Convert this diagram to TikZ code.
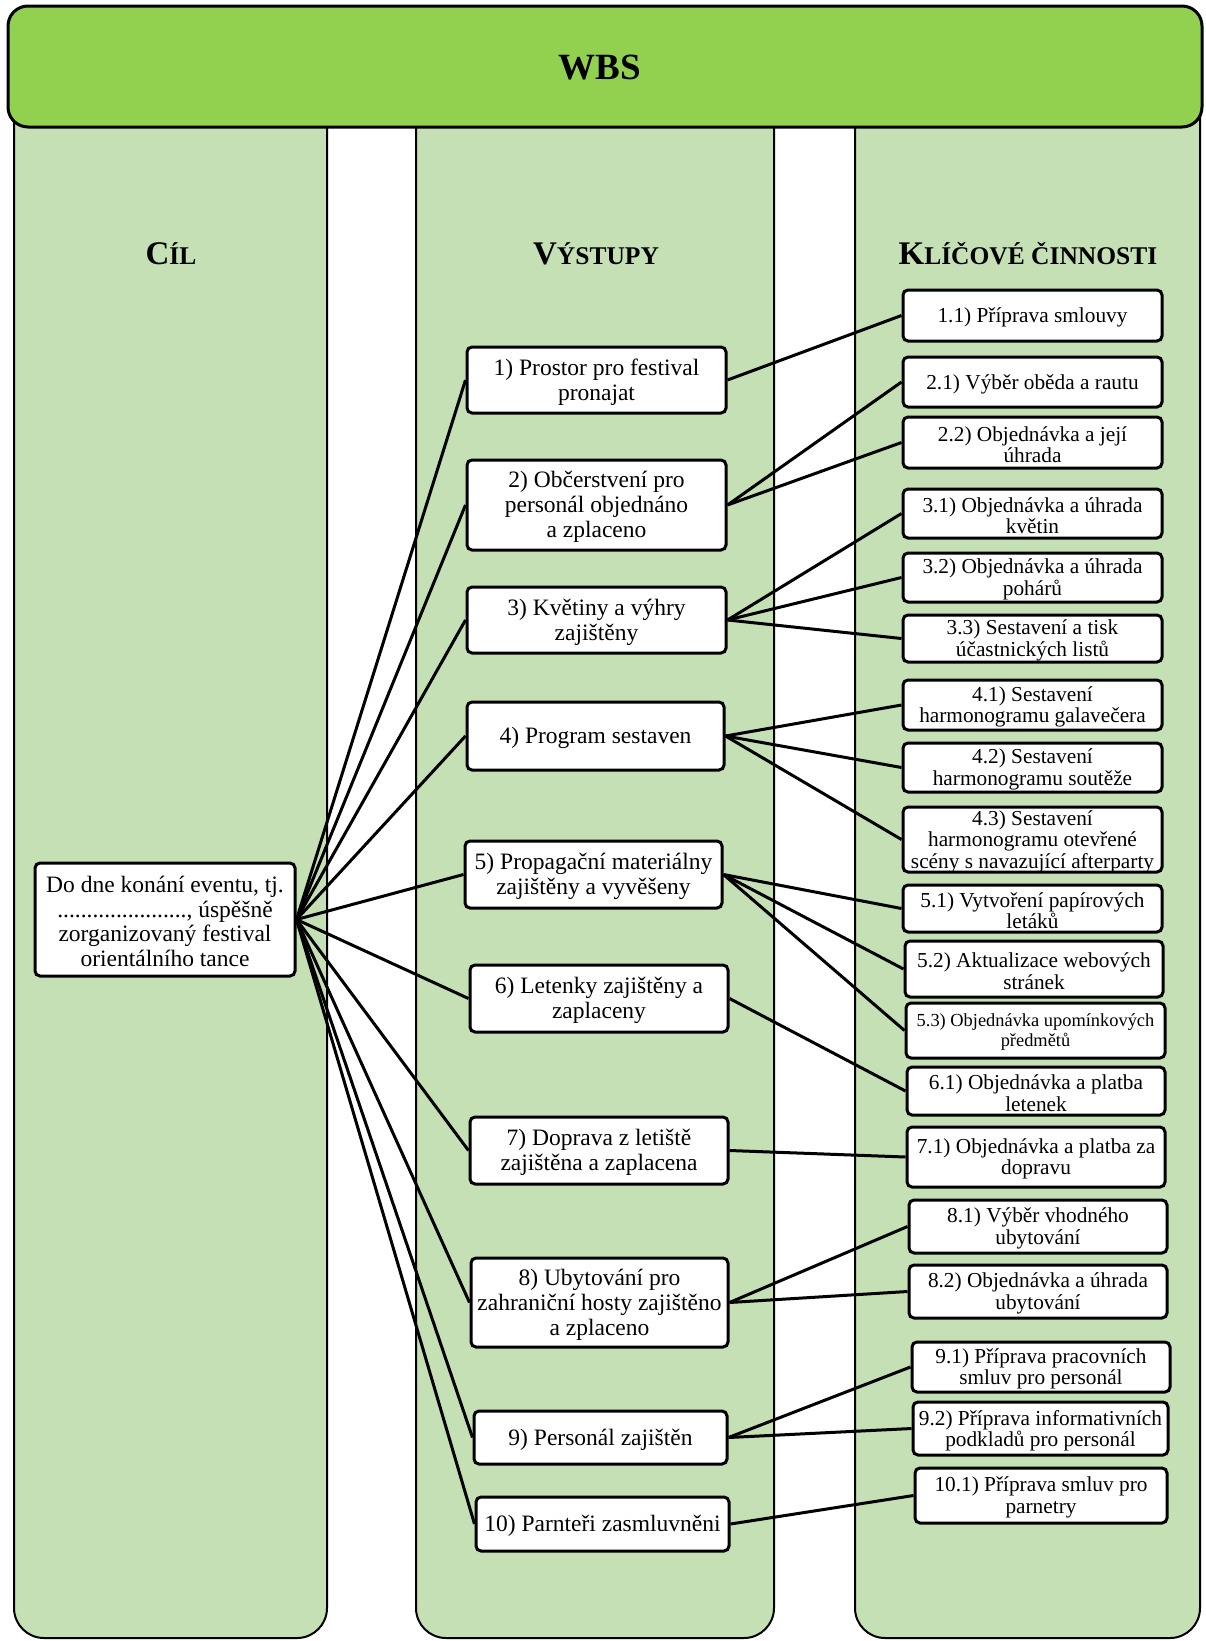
\documentclass[tikz,border=0pt]{standalone}
\usepackage{fontspec}
\setmainfont{Liberation Serif}
\definecolor{barGreen}{HTML}{92D050}
\definecolor{laneGreen}{HTML}{C5E0B4}

% box given by its corners: style, name, x1, y1, x2, y2, text
% the frame carries the name; the text sits in its own node, set a little lower
\newcommand\wbsbox[7]{%
  \node[#1, minimum width={(#5)-(#3)}, minimum height={(#6)-(#4)}]
    (#2) at ({((#3)+(#5))/2},{((#4)+(#6))/2}) {};
  \node[#1, draw=none, fill=none, yshift=-2pt]
    (#2-t) at ({((#3)+(#5))/2},{((#4)+(#6))/2}) {#7};}

\begin{document}
\begin{tikzpicture}[x=1pt,y=-1pt,
  lane/.style={draw=black, line width=2pt, fill=laneGreen, rounded corners=30pt},
  titlebar/.style={draw=black, line width=3pt, fill=barGreen, rounded corners=20pt},
  box/.style={draw=black, line width=3pt, fill=white, rounded corners=5pt,
    inner sep=0pt, align=center},
  goalbox/.style={box, font=\fontsize{23.5}{24.7}\selectfont},
  outbox/.style={box, font=\fontsize{23.5}{25}\selectfont},
  actbox/.style={box, font=\fontsize{21.3}{21.5}\selectfont},
  smallact/.style={box, font=\fontsize{18.4}{20}\selectfont},
  link/.style={line width=3pt},
  head/.style={font=\bfseries}
]
\useasboundingbox (0,0) rectangle (1205,1641);

% swimlanes
\draw[lane] (14,60) rectangle (327,1638);
\draw[lane] (416,60) rectangle (774,1638);
\draw[lane] (855,60) rectangle (1200,1638);

% title bar
\draw[titlebar] (8,6) rectangle (1202,127);
\node[head, font=\bfseries\fontsize{37}{40}\selectfont] (wbs) at (600,68) {WBS};

% lane headings
\node[head] (hgoal) at (171,254)
  {\fontsize{33}{40}\selectfont C\fontsize{25.5}{40}\selectfont ÍL};
\node[head] (hout) at (596,254)
  {\fontsize{33}{40}\selectfont V\fontsize{25.5}{40}\selectfont ÝSTUPY};
\node[head] (hact) at (1028,254)
  {\fontsize{33}{40}\selectfont K\fontsize{25.5}{40}\selectfont LÍČOVÉ ČINNOSTI};

% goal
\wbsbox{goalbox}{goal}{35}{863}{295}{976}
  {Do dne konání eventu, tj.\\ ......................, úspěšně\\ zorganizovaný festival\\ orientálního tance}

% deliverables
\wbsbox{outbox}{o1}{467}{347}{726}{413}{1) Prostor pro festival\\ pronajat}
\wbsbox{outbox}{o2}{467}{460}{726}{550}{2) Občerstvení pro\\ personál objednáno\\ a zplaceno}
\wbsbox{outbox}{o3}{467}{587}{726}{653}{3) Květiny a výhry\\ zajištěny}
\wbsbox{outbox}{o4}{467}{702}{724}{770}{4) Program sestaven}
\wbsbox{outbox}{o5}{465}{841}{722}{908}{5) Propagační materiálny\\ zajištěny a vyvěšeny}
\wbsbox{outbox}{o6}{470}{965}{728}{1032}{6) Letenky zajištěny a\\ zaplaceny}
\wbsbox{outbox}{o7}{470}{1117}{728}{1184}{7) Doprava z letiště\\ zajištěna a zaplacena}
\wbsbox{outbox}{o8}{471}{1258}{728}{1347}{8) Ubytování pro\\ zahraniční hosty zajištěno\\ a zplaceno}
\wbsbox{outbox}{o9}{474}{1411}{727}{1464}{9) Personál zajištěn}
\wbsbox{outbox}{o10}{476}{1497}{729}{1551}{10) Parnteři zasmluvněni}

% key activities
\wbsbox{actbox}{a11}{903}{290}{1162}{341}{1.1) Příprava smlouvy}
\wbsbox{actbox}{a21}{903}{357}{1162}{407}{2.1) Výběr oběda a rautu}
\wbsbox{actbox}{a22}{903}{417}{1162}{468}{2.2) Objednávka a její\\ úhrada}
\wbsbox{actbox}{a31}{903}{489}{1162}{538}{3.1) Objednávka a úhrada\\ květin}
\wbsbox{actbox}{a32}{903}{553}{1162}{602}{3.2) Objednávka a úhrada\\ pohárů}
\wbsbox{actbox}{a33}{903}{615}{1162}{662}{3.3) Sestavení a tisk\\ účastnických listů}
\wbsbox{actbox}{a41}{903}{680}{1162}{730}{4.1) Sestavení\\ harmonogramu galavečera}
\wbsbox{actbox}{a42}{903}{743}{1162}{792}{4.2) Sestavení\\ harmonogramu soutěže}
\wbsbox{actbox}{a43}{903}{807}{1162}{872}{4.3) Sestavení\\ harmonogramu otevřené\\ scény s navazující afterparty}
\wbsbox{actbox}{a51}{903}{885}{1162}{932}{5.1) Vytvoření papírových\\ letáků}
\wbsbox{actbox}{a52}{905}{941}{1163}{997}{5.2) Aktualizace webových\\ stránek}
\wbsbox{smallact}{a53}{906}{1003}{1165}{1058}{5.3) Objednávka upomínkových\\ předmětů}
\wbsbox{actbox}{a61}{907}{1067}{1165}{1115}{6.1) Objednávka a platba\\ letenek}
\wbsbox{actbox}{a71}{907}{1127}{1165}{1187}{7.1) Objednávka a platba za\\ dopravu}
\wbsbox{actbox}{a81}{909}{1200}{1167}{1253}{8.1) Výběr vhodného\\ ubytování}
\wbsbox{actbox}{a82}{909}{1265}{1167}{1318}{8.2) Objednávka a úhrada\\ ubytování}
\wbsbox{actbox}{a91}{912}{1342}{1170}{1392}{9.1) Příprava pracovních\\ smluv pro personál}
\wbsbox{actbox}{a92}{913}{1402}{1168}{1455}{9.2) Příprava informativních\\ podkladů pro personál}
\wbsbox{actbox}{a101}{915}{1468}{1167}{1523}{10.1) Příprava smluv pro\\ parnetry}

% goal to deliverables
\foreach \o in {o1,o2,o3,o4,o5,o6,o7,o8,o9,o10}
  \draw[link] (goal.east) -- (\o.west);

% deliverables to activities
\foreach \o/\a in {o1/a11, o2/a21, o2/a22, o3/a31, o3/a32, o3/a33,
                   o4/a41, o4/a42, o4/a43, o5/a51, o5/a52, o5/a53,
                   o6/a61, o7/a71, o8/a81, o8/a82, o9/a91, o9/a92, o10/a101}
  \draw[link] (\o.east) -- (\a.west);
\end{tikzpicture}
\end{document}
